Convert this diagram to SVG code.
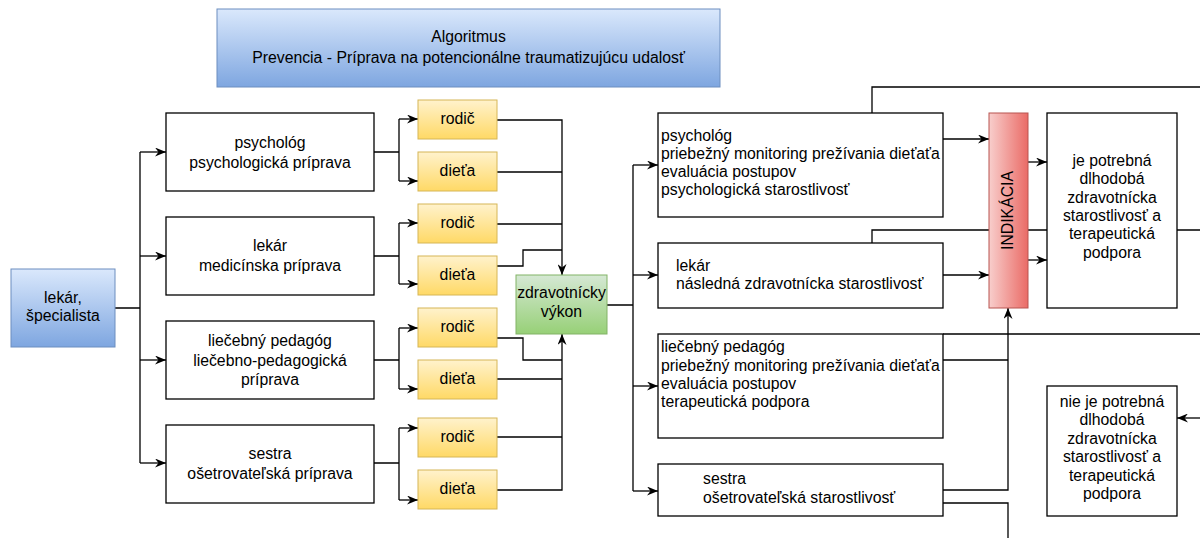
<svg xmlns="http://www.w3.org/2000/svg" width="1200" height="538" viewBox="0 0 1200 538">
<defs>
<linearGradient id="gBlue" x1="0" y1="0" x2="0" y2="1"><stop offset="0" stop-color="#dae8fc"/><stop offset="1" stop-color="#7ea6e0"/></linearGradient>
<linearGradient id="gYellow" x1="0" y1="0" x2="0" y2="1"><stop offset="0" stop-color="#fff2cc"/><stop offset="1" stop-color="#ffd966"/></linearGradient>
<linearGradient id="gGreen" x1="0" y1="0" x2="0" y2="1"><stop offset="0" stop-color="#d5e8d4"/><stop offset="1" stop-color="#97d077"/></linearGradient>
<linearGradient id="gRed" x1="0" y1="0" x2="1" y2="0"><stop offset="0" stop-color="#f8cecc"/><stop offset="1" stop-color="#ea6b66"/></linearGradient>
<marker id="arr" viewBox="0 0 11 9" refX="11" refY="4.5" markerWidth="11" markerHeight="9" markerUnits="userSpaceOnUse" orient="auto"><path d="M0,0 L11,4.5 L0,9 L3.5,4.5 z" fill="#000"/></marker>
<style>
text{font-family:"Liberation Sans",Arial,sans-serif;font-size:15.8px;fill:#000}
.c{text-anchor:middle}
.plain{fill:#fff;stroke:#000;stroke-width:1.3}
.blue{fill:url(#gBlue);stroke:#6c8ebf;stroke-width:1}
.yel{fill:url(#gYellow);stroke:#d6b656;stroke-width:1}
.grn{fill:url(#gGreen);stroke:#82b366;stroke-width:1}
.red{fill:url(#gRed);stroke:#b85450;stroke-width:1}
.ln{fill:none;stroke:#000;stroke-width:1.3}
.ar{marker-end:url(#arr)}
</style>
</defs>
<g id="connectors">
<path class="ln" d="M115,308 H140 M140,152 V463"/>
<path class="ln ar" d="M140,152 H166"/>
<path class="ln ar" d="M140,256 H166"/>
<path class="ln ar" d="M140,360 H166"/>
<path class="ln ar" d="M140,463 H166"/>
<path class="ln" d="M374,152 H399 M399,119 V181 M374,256 H399 M399,223 V284 M374,360 H399 M399,328 V389 M374,463 H399 M399,428 V500"/>
<path class="ln ar" d="M399,119 H418"/>
<path class="ln ar" d="M399,181 H418"/>
<path class="ln ar" d="M399,223 H418"/>
<path class="ln ar" d="M399,284 H418"/>
<path class="ln ar" d="M399,328 H418"/>
<path class="ln ar" d="M399,389 H418"/>
<path class="ln ar" d="M399,428 H418"/>
<path class="ln ar" d="M399,500 H418"/>
<path class="ln ar" d="M497,120 H562 V275"/>
<path class="ln" d="M497,172 H562 M497,224 H562 M497,266 H523 V250 H562"/>
<path class="ln ar" d="M497,490 H562 V334"/>
<path class="ln" d="M497,437 H562 M497,379 H562 M497,338 H523 V360 H562"/>
<path class="ln" d="M607,305 H633 M633,165 V491"/>
<path class="ln ar" d="M633,165 H658"/>
<path class="ln ar" d="M633,275 H658"/>
<path class="ln ar" d="M633,386 H658"/>
<path class="ln ar" d="M633,491 H658"/>
<path class="ln" d="M872,113 V87 H1200"/>
<path class="ln" d="M872,243 V230 H1200"/>
<path class="ln ar" d="M943,139 H989"/>
<path class="ln ar" d="M943,275 H989"/>
<path class="ln ar" d="M1028,162 H1047"/>
<path class="ln ar" d="M1028,260 H1047"/>
<path class="ln" d="M943,334 H1200 M943,360 H1008"/>
<path class="ln ar" d="M943,490 H1008 V308"/>
<path class="ln" d="M943,503 H1008 V538"/>
<path class="ln ar" d="M1200,418 H1177"/>
</g>
<g id="title">
<rect class="blue" x="217" y="9" width="503" height="78"/>
<text class="c" x="468.5" y="42">Algoritmus</text>
<text class="c" x="468.5" y="63">Prevencia - Príprava na potencionálne traumatizujúcu udalosť</text>
</g>
<g id="lekar-specialista">
<rect class="blue" x="11" y="269" width="104" height="78"/>
<text class="c" x="63" y="303">lekár,</text>
<text class="c" x="63" y="321">špecialista</text>
</g>
<g id="psycholog-priprava">
<rect class="plain" x="166" y="113" width="208" height="78"/>
<text class="c" x="270" y="147.5">psychológ</text>
<text class="c" x="270" y="167.5">psychologická príprava</text>
</g>
<g id="lekar-priprava">
<rect class="plain" x="166" y="217" width="208" height="78"/>
<text class="c" x="270" y="251">lekár</text>
<text class="c" x="270" y="271">medicínska príprava</text>
</g>
<g id="pedagog-priprava">
<rect class="plain" x="166" y="321" width="208" height="78"/>
<text class="c" x="270" y="346">liečebný pedagóg</text>
<text class="c" x="270" y="365.5">liečebno-pedagogická</text>
<text class="c" x="270" y="385">príprava</text>
</g>
<g id="sestra-priprava">
<rect class="plain" x="166" y="425" width="208" height="78"/>
<text class="c" x="270" y="459">sestra</text>
<text class="c" x="270" y="479">ošetrovateľská príprava</text>
</g>
<g id="rodic1"><rect class="yel" x="418" y="100" width="79" height="39"/><text class="c" x="457.5" y="124">rodič</text></g>
<g id="dieta1"><rect class="yel" x="418" y="152" width="79" height="39"/><text class="c" x="457.5" y="176">dieťa</text></g>
<g id="rodic2"><rect class="yel" x="418" y="204" width="79" height="39"/><text class="c" x="457.5" y="228">rodič</text></g>
<g id="dieta2"><rect class="yel" x="418" y="256" width="79" height="39"/><text class="c" x="457.5" y="280">dieťa</text></g>
<g id="rodic3"><rect class="yel" x="418" y="308" width="79" height="39"/><text class="c" x="457.5" y="332">rodič</text></g>
<g id="dieta3"><rect class="yel" x="418" y="360" width="79" height="39"/><text class="c" x="457.5" y="384">dieťa</text></g>
<g id="rodic4"><rect class="yel" x="418" y="418" width="79" height="39"/><text class="c" x="457.5" y="442">rodič</text></g>
<g id="dieta4"><rect class="yel" x="418" y="470" width="79" height="39"/><text class="c" x="457.5" y="494">dieťa</text></g>
<g id="zdravotnicky-vykon">
<rect class="grn" x="516" y="275" width="91" height="59"/>
<text class="c" x="561.5" y="298">zdravotnícky</text>
<text class="c" x="561.5" y="317">výkon</text>
</g>
<g id="psycholog-starostlivost">
<rect class="plain" x="658" y="113" width="285" height="104"/>
<text x="661" y="141">psychológ</text>
<text x="661" y="159">priebežný monitoring prežívania dieťaťa</text>
<text x="661" y="177">evaluácia postupov</text>
<text x="661" y="195">psychologická starostlivosť</text>
</g>
<g id="lekar-starostlivost">
<rect class="plain" x="658" y="243" width="285" height="65"/>
<text x="676" y="271">lekár</text>
<text x="676" y="289">následná zdravotnícka starostlivosť</text>
</g>
<g id="pedagog-starostlivost">
<rect class="plain" x="658" y="334" width="285" height="104"/>
<text x="661" y="352">liečebný pedagóg</text>
<text x="661" y="371">priebežný monitoring prežívania dieťaťa</text>
<text x="661" y="389">evaluácia postupov</text>
<text x="661" y="407">terapeutická podpora</text>
</g>
<g id="sestra-starostlivost">
<rect class="plain" x="658" y="464" width="285" height="52"/>
<text x="703" y="484">sestra</text>
<text x="703" y="503">ošetrovateľská starostlivosť</text>
</g>
<g id="indikacia">
<rect class="red" x="989" y="113" width="39" height="195"/>
<text class="c" transform="translate(1012.5,210.5) rotate(-90)" x="0" y="0">INDIKÁCIA</text>
</g>
<g id="je-potrebna">
<rect class="plain" x="1047" y="113" width="130" height="195"/>
<text class="c" x="1112" y="166">je potrebná</text>
<text class="c" x="1112" y="184.3">dlhodobá</text>
<text class="c" x="1112" y="202.6">zdravotnícka</text>
<text class="c" x="1112" y="220.9">starostlivosť a</text>
<text class="c" x="1112" y="239.2">terapeutická</text>
<text class="c" x="1112" y="257.5">podpora</text>
</g>
<g id="nie-je-potrebna">
<rect class="plain" x="1047" y="386" width="130" height="130"/>
<text class="c" x="1112" y="407">nie je potrebná</text>
<text class="c" x="1112" y="425.4">dlhodobá</text>
<text class="c" x="1112" y="443.8">zdravotnícka</text>
<text class="c" x="1112" y="462.2">starostlivosť a</text>
<text class="c" x="1112" y="480.6">terapeutická</text>
<text class="c" x="1112" y="499">podpora</text>
</g>
</svg>
